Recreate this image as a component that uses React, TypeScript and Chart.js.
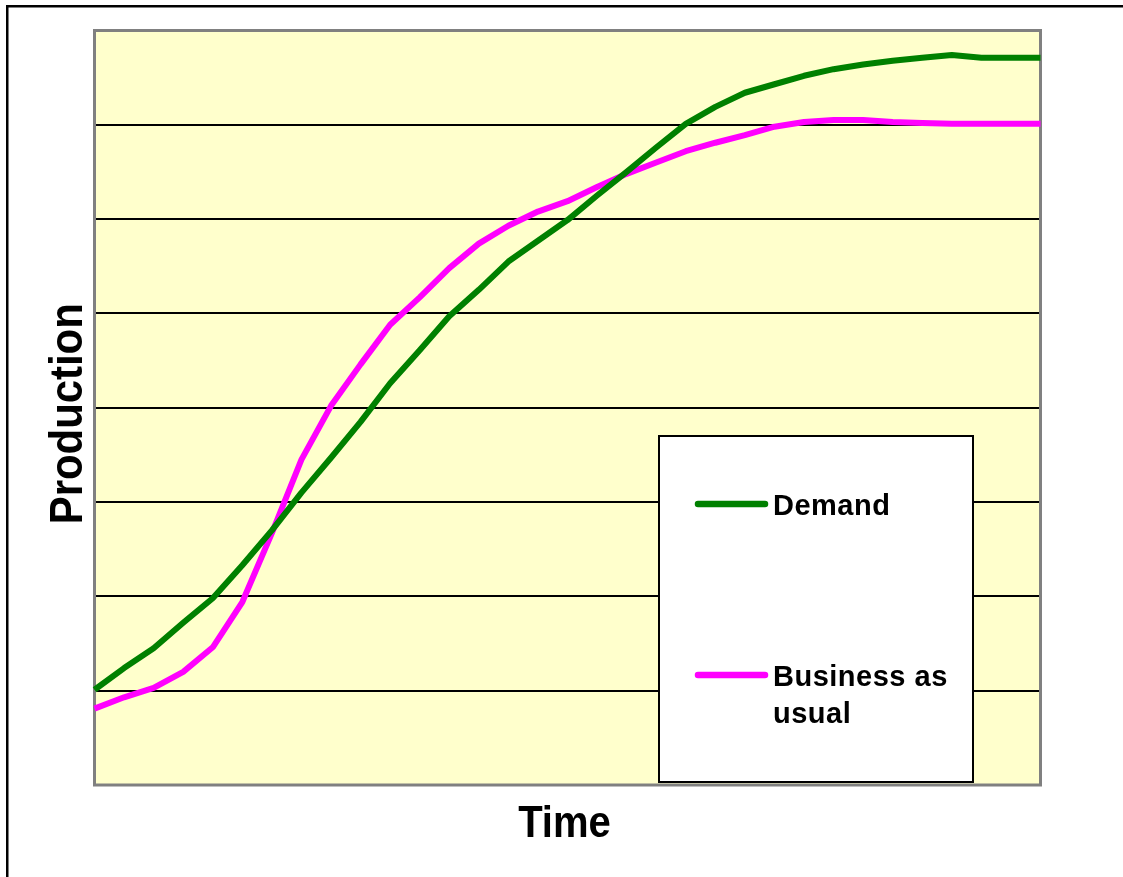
import React, { useEffect, useRef } from "react";
import { Chart, registerables } from "chart.js";

Chart.register(...registerables);

// ---- data ----
const timeSteps = [
  "0", "1", "2", "3", "4", "5", "6", "7", "8", "9", "10",
  "11", "12", "13", "14", "15", "16", "17", "18", "19", "20",
  "21", "22", "23", "24", "25", "26", "27", "28", "29", "30", "31", "32",
];
const demand = [
  1.01, 1.24, 1.45, 1.72, 1.98, 2.33, 2.7, 3.1, 3.47, 3.85, 4.26,
  4.61, 4.97, 5.25, 5.55, 5.77, 5.99, 6.25, 6.5, 6.76, 7.01,
  7.19, 7.34, 7.43, 7.52, 7.59, 7.64, 7.68, 7.71, 7.74, 7.71, 7.71, 7.71,
];
const businessAsUsual = [
  0.81, 0.93, 1.03, 1.2, 1.46, 1.94, 2.67, 3.45, 4.02, 4.46, 4.88,
  5.17, 5.48, 5.74, 5.93, 6.08, 6.19, 6.34, 6.48, 6.6, 6.72,
  6.81, 6.89, 6.98, 7.03, 7.05, 7.05, 7.03, 7.02, 7.01, 7.01, 7.01, 7.01,
];
const seriesNames = ["Demand", "Business as usual"];
const seriesColors = ["#008000", "#FF00FF"];
const yGridValues = [1, 2, 3, 4, 5, 6, 7];
const xTitle = "Time";
const yTitle = "Production";

const FONT = '"Liberation Sans", Arial, Helvetica, sans-serif';

function wrapText(ctx: CanvasRenderingContext2D, text: string, maxW: number): string[] {
  const words = text.split(" ");
  const lines: string[] = [];
  let cur = "";
  for (const w of words) {
    const test = cur ? cur + " " + w : w;
    if (ctx.measureText(test).width > maxW && cur) {
      lines.push(cur);
      cur = w;
    } else {
      cur = test;
    }
  }
  if (cur) lines.push(cur);
  return lines;
}

const decorPlugin = {
  id: "decor",
  beforeDraw(chart: any) {
    const { ctx, chartArea: a } = chart;
    ctx.save();
    // outer frame
    ctx.strokeStyle = "#000";
    ctx.lineWidth = 2.5;
    ctx.strokeRect(7.25, 6.25, 1300, 1100);
    // plot background
    ctx.fillStyle = "#FFFFCC";
    ctx.fillRect(a.left, a.top, a.right - a.left, a.bottom - a.top);
    // horizontal gridlines
    const ys = chart.scales.y;
    ctx.strokeStyle = "#000";
    ctx.lineWidth = 2;
    for (const v of yGridValues) {
      const py = Math.round(ys.getPixelForValue(v));
      ctx.beginPath();
      ctx.moveTo(a.left, py);
      ctx.lineTo(a.right, py);
      ctx.stroke();
    }
    // plot border
    ctx.strokeStyle = "#808080";
    ctx.lineWidth = 3;
    ctx.strokeRect(a.left, a.top, a.right - a.left, a.bottom - a.top);

    // axis titles
    ctx.fillStyle = "#000";
    ctx.font = `bold 44px ${FONT}`;
    ctx.textAlign = "center";
    ctx.textBaseline = "alphabetic";
    ctx.save();
    ctx.translate((a.left + a.right) / 2 - 3, 837);
    ctx.scale(0.91, 1);
    ctx.fillText(xTitle, 0, 0);
    ctx.restore();

    ctx.save();
    ctx.font = `bold 46px ${FONT}`;
    ctx.translate(82, (a.top + a.bottom) / 2 + 6);
    ctx.rotate(-Math.PI / 2);
    ctx.scale(0.91, 1);
    ctx.fillText(yTitle, 0, 0);
    ctx.restore();
    ctx.restore();
  },
  afterDatasetsDraw(chart: any) {
    const { ctx } = chart;
    const box = { left: 659, top: 436, right: 973, bottom: 782 };
    ctx.save();
    ctx.fillStyle = "#FFFFFF";
    ctx.fillRect(box.left, box.top, box.right - box.left, box.bottom - box.top);
    ctx.strokeStyle = "#000";
    ctx.lineWidth = 2;
    ctx.strokeRect(box.left, box.top, box.right - box.left, box.bottom - box.top);

    const entryY = [box.top + 68, box.top + 239];
    ctx.font = `bold 29px ${FONT}`;
    ctx.textAlign = "left";
    ctx.textBaseline = "alphabetic";
    try {
      (ctx as any).letterSpacing = "0.5px";
    } catch (e) {}
    chart.data.datasets.forEach((ds: any, i: number) => {
      const y = entryY[i];
      ctx.strokeStyle = ds.borderColor;
      ctx.lineWidth = 6.5;
      ctx.lineCap = "round";
      ctx.beginPath();
      ctx.moveTo(698, y);
      ctx.lineTo(765, y);
      ctx.stroke();
      ctx.fillStyle = "#000";
      const lines = wrapText(ctx, ds.label, box.right - 773 - 10);
      lines.forEach((ln, j) => {
        ctx.fillText(ln, 773, y + 11 + j * 37);
      });
    });
    ctx.restore();
  },
};

export default function App() {
  const ref = useRef<HTMLCanvasElement | null>(null);
  useEffect(() => {
    if (!ref.current) return;
    const chart = new Chart(ref.current, {
      type: "line",
      data: {
        labels: timeSteps,
        datasets: [
          {
            label: seriesNames[0],
            data: demand,
            borderColor: seriesColors[0],
            backgroundColor: seriesColors[0],
            borderWidth: 6,
            pointRadius: 0,
            tension: 0,
            clip: false as any,
            borderJoinStyle: "round",
            borderCapStyle: "butt",
          },
          {
            label: seriesNames[1],
            data: businessAsUsual,
            borderColor: seriesColors[1],
            backgroundColor: seriesColors[1],
            borderWidth: 6,
            pointRadius: 0,
            tension: 0,
            clip: false as any,
            borderJoinStyle: "round",
            borderCapStyle: "butt",
          },
        ],
      },
      options: {
        responsive: false,
        animation: false,
        devicePixelRatio: 1,
        layout: { padding: { left: 94.5, top: 30.5, right: 82.5, bottom: 92 } },
        scales: {
          x: { type: "category", display: false },
          y: { min: 0, max: 8, display: false },
        },
        plugins: {
          legend: { display: false },
          tooltip: { enabled: false },
        },
        events: [],
      },
      plugins: [decorPlugin],
    });
    return () => chart.destroy();
  }, []);
  return (
    <div style={{ position: "absolute", left: 0, top: 0, width: 1123, height: 877, background: "#fff" }}>
      <canvas ref={ref} width={1123} height={877} style={{ display: "block" }} />
    </div>
  );
}
